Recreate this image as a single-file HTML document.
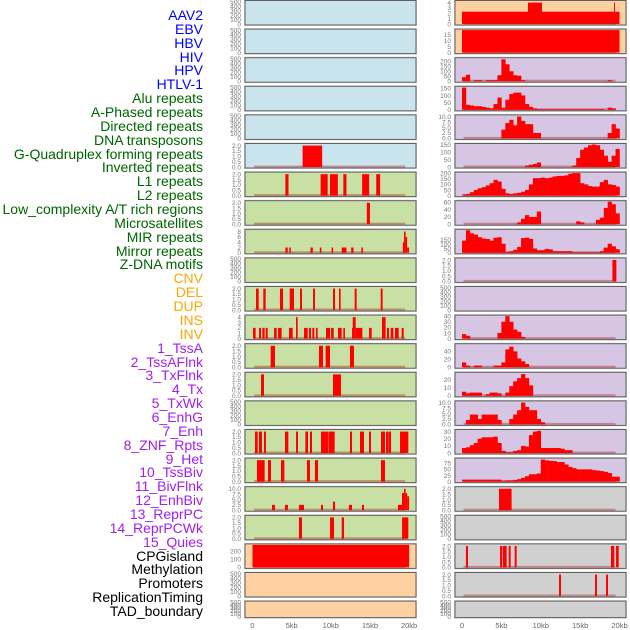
<!DOCTYPE html>
<html><head><meta charset="utf-8">
<style>
html,body{margin:0;padding:0;background:#fff;}
body{width:630px;height:630px;overflow:hidden;position:relative;font-family:"Liberation Sans",sans-serif;}
.lab{position:absolute;right:427px;font-size:14px;line-height:14px;white-space:nowrap;}
svg{position:absolute;left:0;top:0;}
</style></head><body>
<div id="labels"></div>
<svg id="chart" width="630" height="630"></svg>
<script>
// Track labels and colours
const labelNames = ["AAV2","EBV","HBV","HIV","HPV","HTLV-1","Alu repeats","A-Phased repeats","Directed repeats","DNA transposons","G-Quadruplex forming repeats","Inverted repeats","L1 repeats","L2 repeats","Low_complexity A/T rich regions","Microsatellites","MIR repeats","Mirror repeats","Z-DNA motifs","CNV","DEL","DUP","INS","INV","1_TssA","2_TssAFlnk","3_TxFlnk","4_Tx","5_TxWk","6_EnhG","7_Enh","8_ZNF_Rpts","9_Het","10_TssBiv","11_BivFlnk","12_EnhBiv","13_ReprPC","14_ReprPCWk","15_Quies","CPGisland","Methylation","Promoters","ReplicationTiming","TAD_boundary"];
const labelGroups = [6,13,5,15,5];
const groupColors = ["#0000ff","#006400","#ffa500","#a020f0","#000000"];
const xTickLabels = ["0","5kb","10kb","15kb","20kb"];
const xTickValues = [0,5,10,15,20];

// Left column panels
const leftBg = ["b","b","b","b","b","b","g","g","g","g","g","g","g","g","g","g","g","g","g","p","p","p"];
const leftMax = [500,500,500,500,500,2.1,2.1,2.1,8.5,500,2.1,4.2,2.1,2.1,500,2.1,2.1,10.5,2.1,280,500,500];
const leftTicks = [
 ["0","100","200","300","400","500"],["0","100","200","300","400","500"],["0","100","200","300","400","500"],["0","100","200","300","400","500"],["0","100","200","300","400","500"],
 ["0.0","0.5","1.0","1.5","2.0"],["0.0","0.5","1.0","1.5","2.0"],["0.0","0.5","1.0","1.5","2.0"],["0","2","4","6","8"],["0","100","200","300","400","500"],
 ["0.0","0.5","1.0","1.5","2.0"],["0","1","2","3","4"],["0.0","0.5","1.0","1.5","2.0"],["0.0","0.5","1.0","1.5","2.0"],["0","100","200","300","400","500"],
 ["0.0","0.5","1.0","1.5","2.0"],["0.0","0.5","1.0","1.5","2.0"],["0.0","2.5","5.0","7.5","10.0"],["0.0","0.5","1.0","1.5","2.0"],["0","100","200"],["0","100","200","300","400","500"],["0","100","200","300","400","500"]];
const leftSegs = [
 [],[],[],[],[],
 [[6.4,8.9,2]],
 [[4.2,4.6,2],[8.7,9.6,2],[9.9,10.9,2],[11.6,12.0,2],[14.0,14.9,2],[15.8,16.3,2]],
 [[14.6,15.0,2]],
 [[4.2,4.5,2],[4.7,4.9,2],[7.4,7.7,2],[8.6,8.8,2],[10.1,10.3,2],[11.4,12.0,2],[12.6,12.9,2],[13.9,14.1,2],[19.2,19.35,4],[19.35,19.55,8],[19.55,19.75,6],[19.75,20.0,2]],
 [],
 [[0.45,0.79,2],[1.38,1.68,2],[3.51,3.9,2],[4.75,5.3,2],[6.07,6.32,2],[7.73,7.98,2],[10.28,10.54,2],[11.05,11.26,2],[13.05,13.3,2],[16.37,16.62,2]],
 [[0.06,0.4,2],[0.83,1.09,2],[1.26,1.55,2],[1.68,1.94,2],[2.75,3.09,2],[3.26,3.72,2],[4.66,5.13,2],[5.56,5.77,4],[6.58,7.05,2],[7.22,7.47,2],[7.64,7.9,2],[8.11,8.32,2],[9.39,9.9,2],[10.03,10.37,2],[10.92,11.39,2],[11.6,11.81,2],[12.71,12.8,2],[12.8,13.18,4],[13.18,14.03,2],[14.88,15.22,2],[16.54,17.0,4],[17.18,17.43,2],[17.65,17.99,2],[18.2,18.67,2],[19.05,19.31,2]],
 [[2.32,2.87,2],[8.49,9.0,2],[9.34,9.9,2],[12.45,12.96,2]],
 [[1.09,1.47,2],[10.28,11.3,2]],
 [],
 [[0.32,0.66,2],[0.83,1.21,2],[1.47,1.72,2],[4.15,4.58,2],[5.56,5.81,2],[6.75,7.09,2],[7.34,7.6,2],[8.75,9.68,2],[9.73,10.49,2],[12.45,12.71,2],[13.73,14.24,2],[14.88,15.13,2],[16.41,16.92,2],[17.05,17.39,2],[17.43,17.69,2],[18.84,19.9,2]],
 [[0.57,1.55,2],[1.98,2.36,2],[3.64,4.07,2],[6.96,7.34,2],[7.98,8.37,2],[16.41,16.92,2]],
 [[2.49,2.87,2.5],[4.15,4.53,2.5],[5.94,6.58,2.5],[8.75,9.0,2.5],[10.28,10.54,4],[12.32,12.71,2.5],[13.98,14.24,2.5],[18.58,19.09,2.5],[19.09,19.35,8],[19.35,19.55,10],[19.55,19.75,8],[19.75,20.0,6.5]],
 [[5.94,6.32,2],[9.9,10.15,2],[10.15,10.41,2],[11.39,11.69,2],[19.1,19.9,2]],
 [[0,20,280]],
 [],[]];

// Right column panels
const rightBg = ["p","p","u","u","u","u","u","u","u","u","u","u","u","u","u","u","u","y","y","y","y","y"];
const rightMax = [4.2,18.7,226,157,10.3,150,200,62,260,2.1,500,40,57,28,10.3,31.5,92,2.1,500,2.1,2.1,500];
const rightTicks = [
 ["0","1","2","3","4"],["0","5","10","15"],["0","50","100","150","200"],["0","50","100","150"],["0.0","2.5","5.0","7.5","10.0"],
 ["0","50","100","150"],["0","50","100","150","200"],["0","20","40","60"],["0","50","100","150"],["0.0","0.5","1.0","1.5","2.0"],
 ["0","100","200","300","400","500"],["0","10","20","30","40"],["0","20","40"],["0","10","20"],["0.0","2.5","5.0","7.5","10.0"],
 ["0","10","20","30"],["0","25","50","75"],["0.0","0.5","1.0","1.5","2.0"],["0","100","200","300","400","500"],["0.0","0.5","1.0","1.5","2.0"],["0.0","0.5","1.0","1.5","2.0"],["0","100","200","300","400","500"]];
const rightTickStep = [1,5,50,50,2.5,50,50,20,50,0.5,100,10,20,10,2.5,10,25,0.5,100,0.5,0.5,100];
const rightSegs = [
 [[0,8.38,2.3],[8.38,10.16,4],[10.16,19.3,2.3],[19.3,19.42,4],[19.42,20,2.3]],
 [[0,20,18.7]],
 [],[],[],[],[],[],[],
 [[19.1,19.6,2]],
 [],[],[],[],[],[],[],
 [[4.7,6.3,2]],
 [],
 [[0.5,0.76,2],[4.83,5.08,2],[5.17,5.67,2],[5.93,6.18,2],[6.69,6.94,2],[18.92,19.34,2],[19.56,19.9,2]],
 [[12.32,12.57,2],[16.89,17.14,2],[18.29,18.54,2]],
 []];
// Histogram bins (0.5 kb each) for right column
const rightBins = [
 null,null,
 [40,65,0,10,10,0,10,10,10,60,220,170,100,60,55,10,0,0,0,0,0,0,0,0,0,0,0,0,0,0,0,0,0,0,0,0,0,10,0,0],
 [155,35,30,25,25,20,15,10,40,85,15,70,110,120,120,100,40,20,10,5,5,5,5,5,5,5,5,5,5,5,5,5,5,5,5,5,0,15,10,0],
 [0,0,0,0,0,0,0,0,0,0,4,7,8.5,6,10,8,6.5,6.5,2.5,2.5,0,0,0,0,0,0,0,0,0,0,0,0,0,0,0,0,0,2.5,6.5,4.5],
 [0,0,0,0,0,0,0,0,0,0,0,0,0,0,0,0,10,15,20,30,0,0,0,0,0,0,0,0,10,60,115,130,145,150,145,115,75,35,75,120],
 [10,15,30,50,65,75,90,110,140,125,60,20,15,20,25,35,50,100,155,155,160,155,160,170,175,175,180,195,200,200,110,100,85,80,80,120,140,100,95,80],
 [0,0,0,0,0,0,0,0,0,0,0,0,0,0,5,15,25,20,20,35,0,0,0,0,0,0,0,0,0,8,5,0,0,0,12,18,45,62,55,30],
 [140,260,225,210,180,165,160,140,175,180,105,10,19,35,68,170,175,160,50,30,30,45,40,19,19,19,19,19,8,8,8,8,8,8,8,19,60,105,75,41],
 null,null,
 [8,5,0,0,0,0,0,0,0,10,30,40,30,16,12,3],
 [12,4,0,4,4,0,0,0,4,4,12,45,52,40,22,15,8],
 [5,3,4,4,4,0,2,4,4,3,0,4,12,18,22,27,22,13],
 [0,2,4.5,4.5,2.5,4.5,4.5,4.5,4.5,2,0,0,2.5,4.5,6.5,10,8,6.5,6.5,2.5,1],
 [7,8,11,14,20,22,22,22,23,14,3,1,1,3,4,10,9,25,30,31,7,7,7,7,7,6,4,4],
 [8,8,8,8,8,8,8,8,8,8,3,5,5,7,10,15,22,30,30,33,90,87,85,84,80,80,70,60,55,50,50,50,50,47,45,43,40,35,20,20],
 null,null,null,null,null];

const bgColors = {b:"#c9e4ec",g:"#c8e0a4",p:"#ffd1a1",u:"#d6c6e4",y:"#d0d0d0"};
const NS = "http://www.w3.org/2000/svg";
const svg = document.getElementById('chart');
const PITCH = 28.6, PH = 24.5;

function xLeft(kb){ return 252.5 + kb*7.83; }
function xRight(kb){ return 462 + kb*7.875; }
function panelTop(i){ return 0.5 + PITCH*i; }
function panelH(i){ return i===21 ? 16.5 : PH; }
function yScale(i, max, v){ const t=panelTop(i)+1, b=panelTop(i)+panelH(i)-1; return b - (v/max)*(b-t); }

function mk(tag, attrs){ const e=document.createElementNS(NS,tag); for(const k in attrs) e.setAttribute(k,attrs[k]); return e; }

function drawPanel(side, i){
  const L = side==='left';
  const x0 = L?245:455, w = 171;
  const xs = L?xLeft:xRight;
  const max = L?leftMax[i]:rightMax[i];
  const bg = L?leftBg[i]:rightBg[i];
  const top = panelTop(i), h = panelH(i);
  const g = mk('g',{});
  
  
  const shadow = mk('rect',{x:x0-0.5,y:top-0.5,width:w+1,height:h+1,fill:'none',stroke:'#d8d8d8','stroke-width':1});
  g.appendChild(shadow);
  const r = mk('rect',{x:x0,y:top,width:w,height:h,fill:bgColors[bg],stroke:'#606060','stroke-width':1});
  
  
  g.appendChild(r);
  const segs = L?leftSegs[i]:rightSegs[i];
  const bins = L?null:rightBins[i];
  const hasData = segs.length>0 || bins;
  if(hasData){
    const base = mk('rect',{x:xs(0.2),y:yScale(i,max,0)-1.5,width:xs(19.5)-xs(0.2),height:2,fill:'rgba(160,0,0,0.35)'});
    
    
    g.appendChild(base);
  }
  segs.forEach(s=>{
    const y = yScale(i,max,s[2]);
    const b = mk('rect',{x:xs(s[0]),y:y,width:Math.max(1,xs(s[1])-xs(s[0])),height:yScale(i,max,0)-y,fill:'#ff0000'});
    
    
    g.appendChild(b);
  });
  if(bins){
    bins.forEach((v,k)=>{
      if(v<=0) return;
      const y = yScale(i,max,v);
      const b = mk('rect',{x:xs(k*0.5),y:y,width:xs((k+1)*0.5)-xs(k*0.5)+0.3,height:yScale(i,max,0)-y,fill:'#ff0000'});
      
      
      g.appendChild(b);
    });
  }
  // ticks
  const ticks = L?leftTicks[i]:rightTicks[i];
  ticks.forEach(t=>{
    const v = parseFloat(t);
    const y = yScale(i,max,v);
    const tx = mk('text',{x:L?241:451,y:y+2.3,'text-anchor':'end','font-size':6.5,fill:'#777','font-family':'Liberation Sans, sans-serif'});
    tx.textContent = t;
    
    
    g.appendChild(tx);
  });
  svg.appendChild(g);
}
for(let i=0;i<22;i++){ drawPanel('left',i); drawPanel('right',i); }

// x axis tick labels
[xLeft,xRight].forEach((fx,side)=>{
  xTickValues.forEach((v,k)=>{
    const t = mk('text',{x:fx(v),y:628,'text-anchor':'middle','font-size':7.5,fill:'#666','font-family':'Liberation Sans, sans-serif'});
    t.textContent = xTickLabels[k];
    
    
    svg.appendChild(t);
  });
});

// labels
const labDiv = document.getElementById('labels');
let idx=0;
labelGroups.forEach((n,gi)=>{
  for(let j=0;j<n;j++){
    const d = document.createElement('div');
    d.className='lab';
    d.style.top = (15 + idx*13.86 - 7) + 'px';
    d.style.color = groupColors[gi];
    d.textContent = labelNames[idx];
    
    
    labDiv.appendChild(d);
    idx++;
  }
});
</script>
</body></html>
